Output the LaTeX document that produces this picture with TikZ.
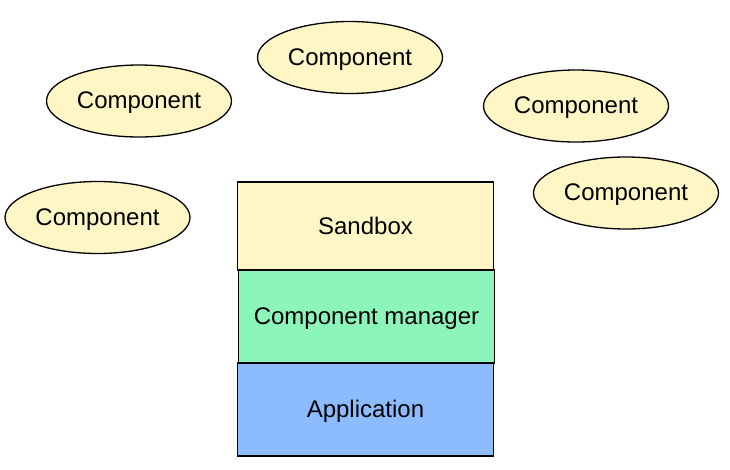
\documentclass[tikz,border=0pt]{standalone}
\usepackage{fontspec}
\setmainfont{Liberation Sans}
\usetikzlibrary{shapes.geometric}
\definecolor{compyellow}{HTML}{FFF6C6}
\definecolor{mgrgreen}{HTML}{8CF5BA}
\definecolor{appblue}{HTML}{8CBBFF}
\tikzset{
  comp/.style={ellipse, draw=black, line width=1.3pt, fill=compyellow, minimum width=185pt, minimum height=72pt, inner sep=0pt, font=\fontsize{24}{28}\selectfont, text depth=1pt},
  layer/.style={rectangle, draw=black, line width=1.3pt, minimum width=256pt, inner sep=0pt, font=\fontsize{24}{28}\selectfont, text depth=1pt}
}
\begin{document}
\begin{tikzpicture}[x=1pt,y=-1pt]
\useasboundingbox (0,0) rectangle (730,469);
\node[comp] (c1) at (139,101) {Component};
\node[comp] (c2) at (350,57.5) {Component};
\node[comp] (c3) at (576,106) {Component};
\node[comp] (c4) at (97.5,217.5) {Component};
\node[comp] (c5) at (626,193) {Component};
\node[layer, fill=appblue, minimum height=93pt] (app) at (365.5,409.5) {Application};
\node[layer, fill=mgrgreen, minimum height=93pt] (mgr) at (366.5,316.5) {Component manager};
\node[layer, fill=compyellow, minimum height=88pt] (sb) at (365.5,226) {Sandbox};
\end{tikzpicture}
\end{document}
